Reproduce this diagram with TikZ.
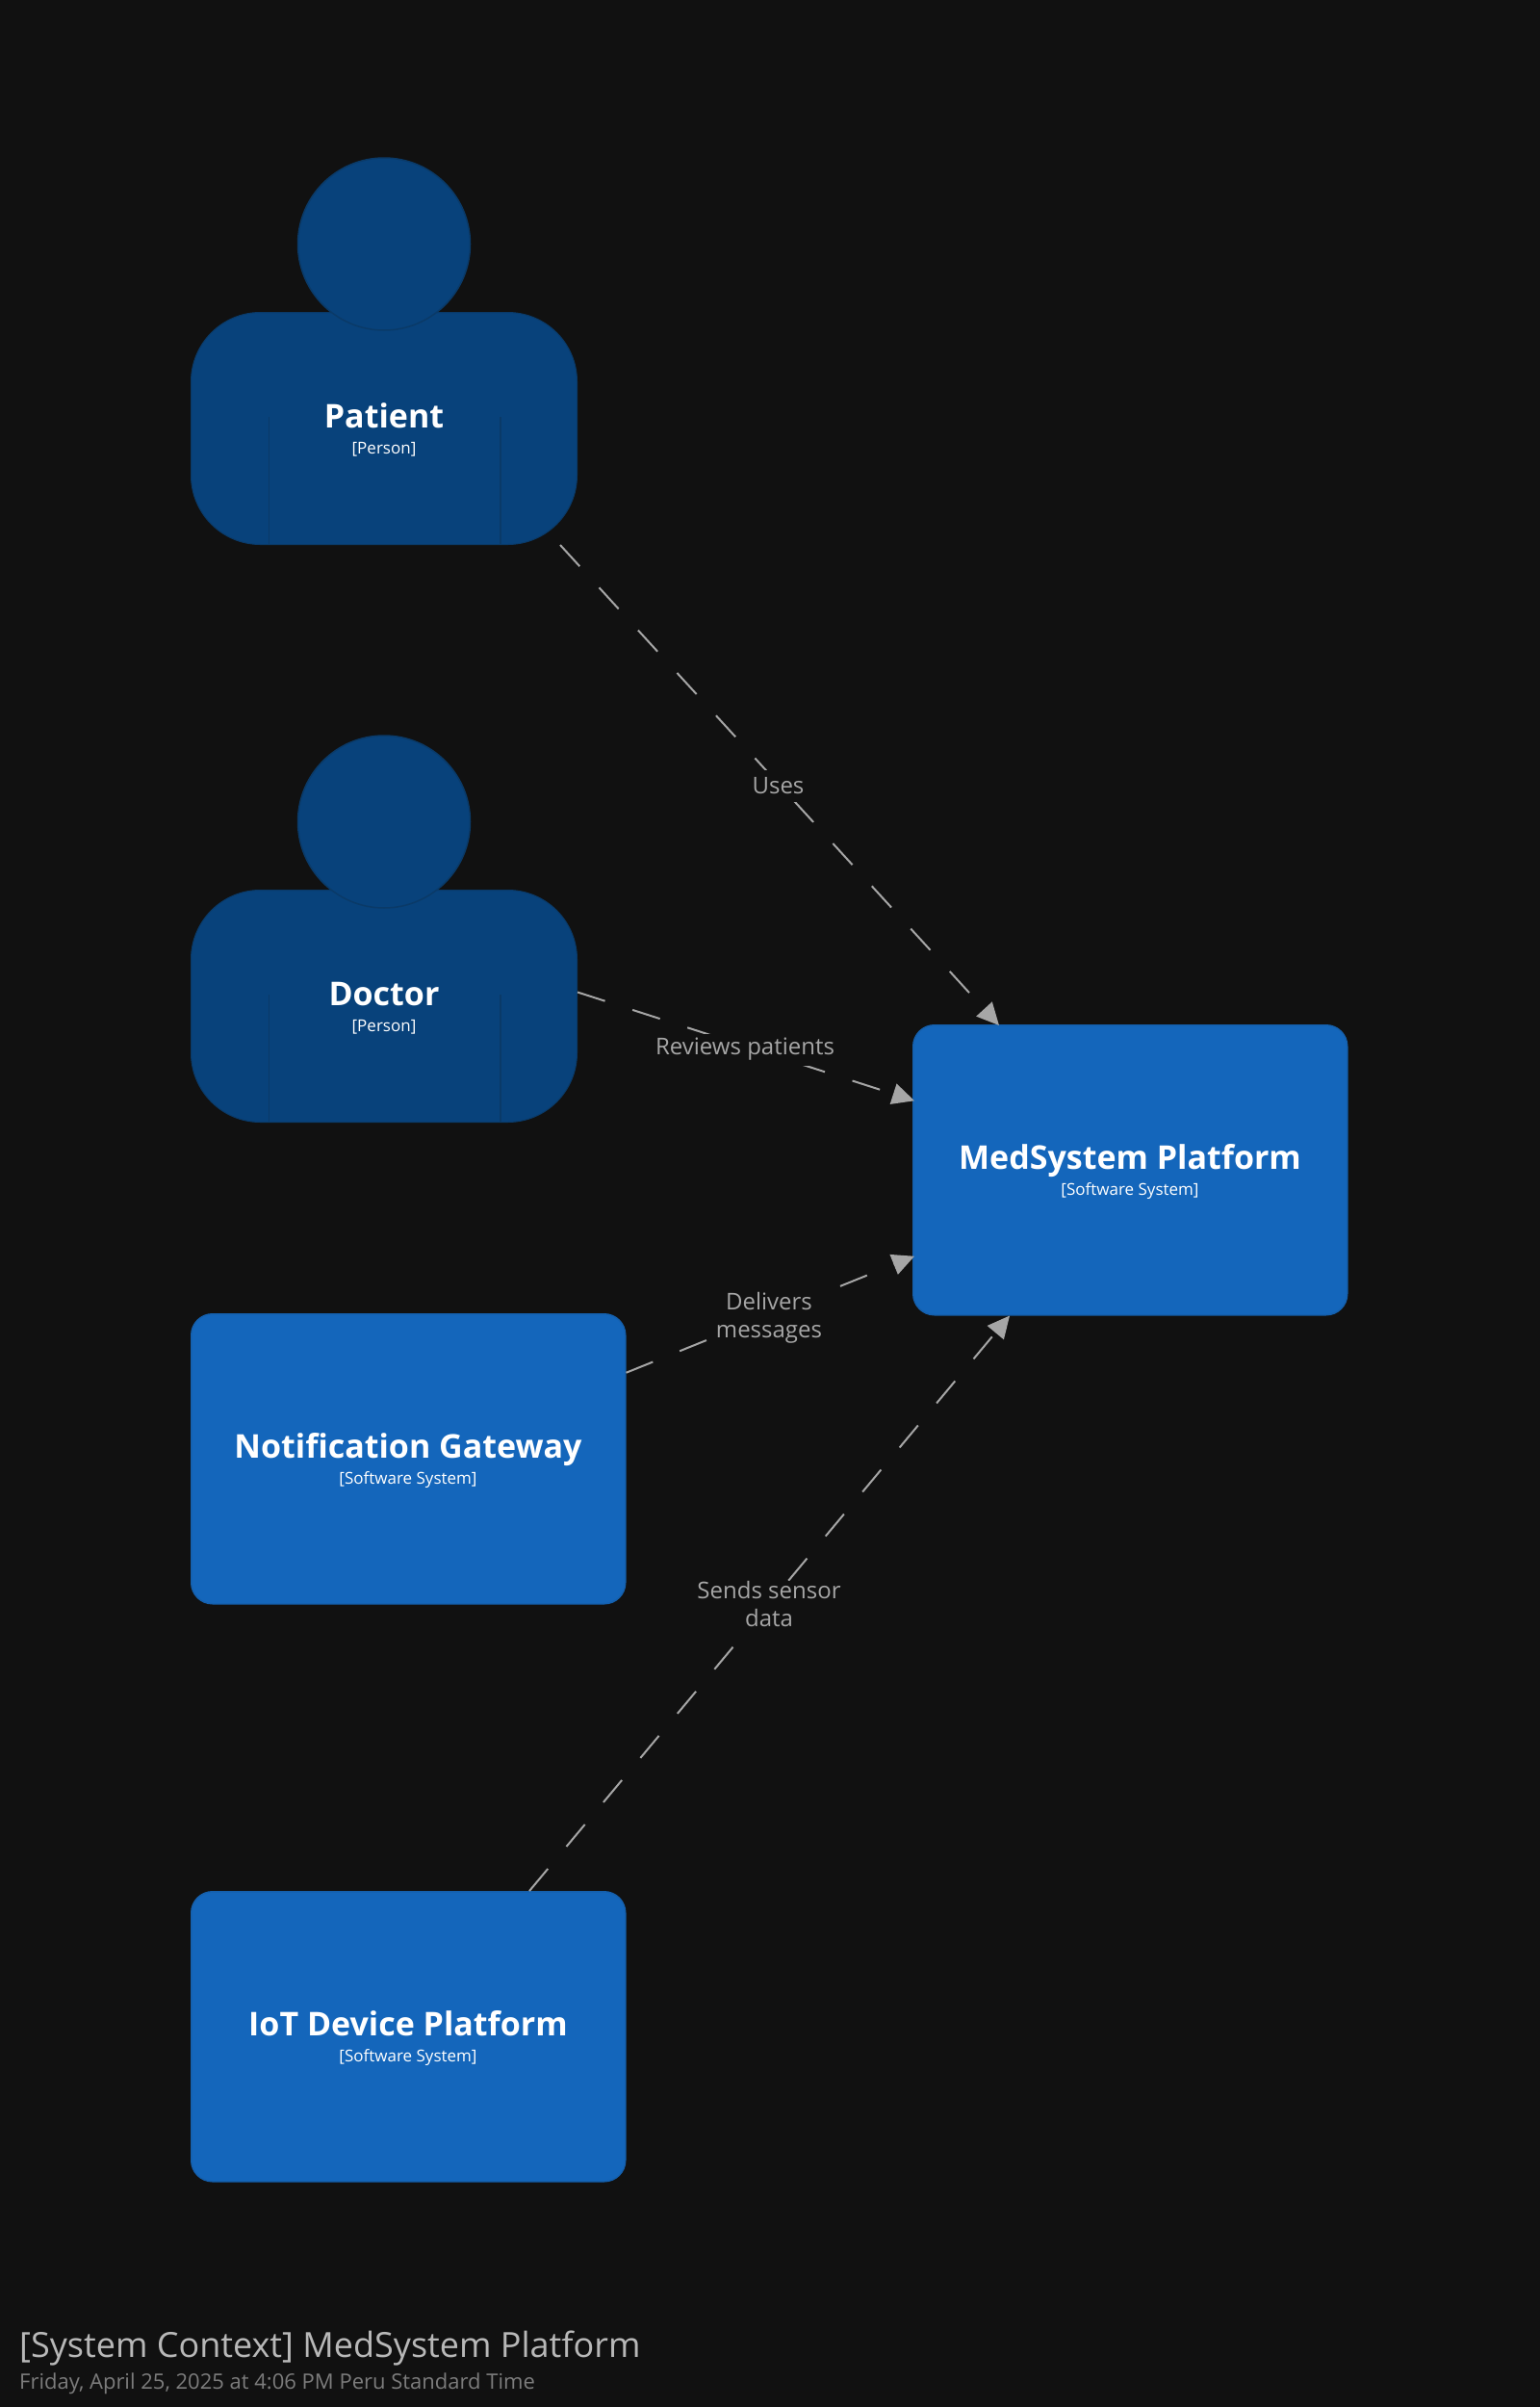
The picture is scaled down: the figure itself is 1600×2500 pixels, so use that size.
\documentclass[tikz,border=0pt]{standalone}
\usepackage{fontspec}
\setmainfont{Open Sans}
\usetikzlibrary{arrows.meta}
\definecolor{bgc}{HTML}{111111}
\definecolor{personc}{HTML}{08427B}
\definecolor{personl}{HTML}{0A3A68}
\definecolor{sysc}{HTML}{1466BB}
\definecolor{sysl}{HTML}{1460AE}
\definecolor{relc}{HTML}{A6A6A6}
\definecolor{titlec}{HTML}{B8B8B8}
\definecolor{datec}{HTML}{7C7C7C}
\tikzset{
  personbody/.style={draw=personl,fill=personc,line width=1pt,rounded corners=72pt,minimum width=401pt,minimum height=241pt,inner sep=0pt,anchor=north west},
  personhead/.style={circle,draw=personl,fill=personc,line width=1.5pt,minimum size=179pt,inner sep=0pt},
  divider/.style={draw=personl,line width=1.5pt},
  sysbox/.style={draw=sysl,fill=sysc,line width=1.5pt,rounded corners=22pt,minimum width=451pt,minimum height=301pt,inner sep=0pt,anchor=north west},
  nametext/.style={text=white,anchor=base,font=\bfseries\fontsize{34}{40}\selectfont,inner sep=0pt},
  kindtext/.style={text=white,anchor=base,font=\fontsize{17}{20}\selectfont,inner sep=0pt},
  rel/.style={draw=relc,line width=2pt,dash pattern=on 30pt off 30pt,-{Triangle[length=23pt,width=22pt,sep=0pt,fill=relc]}},
  rellabel/.style={text=relc,fill=bgc,inner sep=0pt,align=center,font=\fontsize{24}{29}\selectfont},
}
\begin{document}
\begin{tikzpicture}[x=1pt,y=-1pt]
\fill[bgc] (0,0) rectangle (1600,2500);
\useasboundingbox (0,0) rectangle (1600,2500);

% people
\node[personbody] (patient) at (198,324) {};
\draw[divider] ([xshift=81.5pt,yshift=133pt]patient.south west) -- ([xshift=81.5pt]patient.south west);
\draw[divider] ([xshift=-80pt,yshift=133pt]patient.south east) -- ([xshift=-80pt]patient.south east);
\node[personhead] (patienthead) at (399,253.5) {};
\node[nametext] (patientname) at (399,444) {Patient};
\node[kindtext] (patientkind) at (399,471.5) {[Person]};

\node[personbody] (doctor) at (198,924) {};
\draw[divider] ([xshift=81.5pt,yshift=133pt]doctor.south west) -- ([xshift=81.5pt]doctor.south west);
\draw[divider] ([xshift=-80pt,yshift=133pt]doctor.south east) -- ([xshift=-80pt]doctor.south east);
\node[personhead] (doctorhead) at (399,853.5) {};
\node[nametext] (doctorname) at (399,1044) {Doctor};
\node[kindtext] (doctorkind) at (399,1071.5) {[Person]};

% systems
\node[sysbox] (med) at (948,1064) {};
\node[nametext] (medname) at (1174,1214) {MedSystem Platform};
\node[kindtext] (medkind) at (1174,1241.5) {[Software System]};

\node[sysbox] (notif) at (198,1364) {};
\node[nametext] (notifname) at (424,1514) {Notification Gateway};
\node[kindtext] (notifkind) at (424,1541.5) {[Software System]};

\node[sysbox] (iot) at (198,1964) {};
\node[nametext] (iotname) at (424,2114) {IoT Device Platform};
\node[kindtext] (iotkind) at (424,2141.5) {[Software System]};

% relationships
\draw[rel] ([xshift=-18pt]patient.south east) -- ([xshift=90pt,yshift=-1pt]med.north west);
\draw[rel] ([yshift=14.5pt]doctor.east) -- ([xshift=2pt,yshift=72pt]med.west);
\draw[rel] ([yshift=89.5pt]notif.east) -- ([xshift=2pt,yshift=-89.5pt]med.west);
\draw[rel] ([xshift=352pt]iot.north west) -- ([xshift=101pt]med.south west);

% relationship labels
\node[rellabel,minimum height=33pt] (uses) at (808.5,816) {Uses};
\node[rellabel,minimum height=33pt] (reviews) at (774,1090) {Reviews patients};
\node[rellabel] (delivers) at (799,1368.5) {Delivers\\messages};
\node[rellabel] (sends) at (799,1666) {Sends sensor\\data};

% title
\node[anchor=base west,inner sep=0pt,text=titlec,font=\fontsize{36}{44}\selectfont] (title) at (20,2448) {[System Context] MedSystem Platform};
\node[anchor=base west,inner sep=0pt,text=datec,font=\fontsize{22}{28}\selectfont] (date) at (20,2481) {Friday, April 25, 2025 at 4:06 PM Peru Standard Time};
\end{tikzpicture}
\end{document}
